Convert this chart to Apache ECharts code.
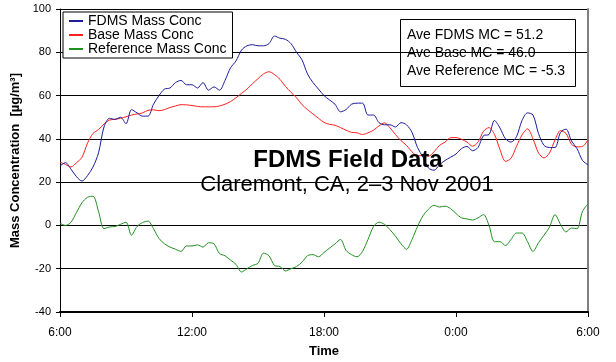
<!DOCTYPE html>
<html>
<head>
<meta charset="utf-8">
<script src="https://cdn.jsdelivr.net/npm/echarts@6/dist/echarts.min.js"></script>
<style>
  html, body { margin: 0; padding: 0; background: #fff; }
  #chart { width: 616px; height: 362px; }
</style>
</head>
<body>
<div id="chart"></div>
<script>
// FDMS field data, Claremont CA, 2-3 Nov 2001: mass concentrations sampled every 15 minutes from 6:00
const STEP_HOURS = 0.25;

const fdmsMassConc = [
  27.5, 29, 26, 22.5, 20.5, 23, 27, 33.5, 45.5, 49.5,
  49, 50, 47, 53.5, 52, 50.5, 50.5, 56, 60, 63,
  63.5, 66, 67, 65, 65, 63.5, 66, 62.5, 64, 62.5,
  67, 72.8, 76, 81, 83, 83.5, 83, 83, 84, 87.5,
  86.5, 86, 84, 80, 76.5, 70, 66, 63, 60, 58,
  56, 52.5, 53.5, 56, 56.5, 56.5, 51, 51, 47.5, 46.5,
  46.5, 45.5, 47.5, 46.5, 43, 36, 31.5, 26.5, 25.5, 28,
  30, 31.5, 33, 35.5, 36.5, 34.5, 36, 41.5, 42, 48.5,
  45, 40, 38.5, 41, 48.5, 52, 51, 42.5, 37, 36,
  36, 43, 44.5, 39, 35.5, 30, 28
];

const baseMassConc = [
  29.2, 28.2, 27, 29, 31.5, 38, 42.5, 44.3, 46.8, 48.7,
  49, 49.5, 50.2, 51, 51.5, 52, 53.2, 53.4, 53, 53.5,
  54.5, 55.2, 55.8, 55.7, 55.4, 55, 54.8, 54.8, 54.8, 55.2,
  56, 57.2, 59, 61, 63, 65.5, 67.8, 70, 71, 69.7,
  67.5, 64.2, 61.5, 59, 55.8, 53.5, 51.5, 49.5, 47.6, 46.7,
  46.3, 45.2, 44, 43, 42.8, 42, 42.8, 44, 46, 47.4,
  45.1, 42, 39.2, 37, 34, 32.2, 32.3, 32, 34, 37,
  38.5, 40.5, 40.6, 39.8, 38.5, 36.6, 38.5, 43.5, 45.2, 42,
  35, 29.6, 31, 36.5, 41.8, 44.6, 40, 33.5, 31.2, 33.5,
  39.5, 43.8, 42.5, 37.5, 36.3, 36.5, 39.5
];

const referenceMassConc = [
  1, 0, 1.5, 6, 10.5, 13, 13.5, 6.5, -1.5, -0.7,
  -0.5, 0.5, 1.5, -4.5, -0.5, 1.3, 2, -1.5, -6, -8.5,
  -10, -11, -12, -9.5, -9.5, -9, -10, -8, -8.5, -13,
  -14, -16, -18, -21.5, -20, -18.5, -17.5, -12.8, -14, -18.5,
  -19, -21, -20, -19, -17, -14, -13.5, -14.5, -12.5, -10.5,
  -8.5, -6.5, -11.5, -13.5, -14.5, -12, -6.5, -0.5, 1.5, 0.5,
  -2, -5, -8.5, -11, -6.5, -0.5, 4.5, 7.5, 9.3, 8.5,
  8.9, 7.8, 5.5, 3.5, 3, 2.5, 3.5, 5, 0, -7.5,
  -7.5, -9.3, -6.5, -3.5, -3.5, -7.5, -12, -8, -4.5, -0.8,
  5, 0.5, -3, -1.2, -1.5, 6.5, 10
];

const seriesNames = ['FDMS Mass Conc', 'Base Mass Conc', 'Reference Mass Conc'];
const xTickLabels = ['6:00', '12:00', '18:00', '0:00', '6:00'];
const averageLabels = ['Ave FDMS MC', 'Ave Base MC', 'Ave Reference MC'];
const averageValues = ['51.2', '46.0', '-5.3'];

const FONT = '"Liberation Sans", Arial, sans-serif';
const colors = ['#1c1c9c', '#ff1f1f', '#1f8f1f'];

function toPairs(values) {
  return values.map((v, i) => [i * STEP_HOURS, v]);
}

const chart = echarts.init(document.getElementById('chart'), null, { renderer: 'canvas' });

const seriesValues = [fdmsMassConc, baseMassConc, referenceMassConc];

const option = {
  animation: false,
  backgroundColor: '#fff',
  textStyle: { fontFamily: FONT },
  grid: { left: 60, top: 9, width: 528, height: 303, containLabel: false, outerBoundsMode: 'none' },
  legend: {
    orient: 'vertical',
    left: 63,
    top: 12,
    padding: [2, 6, 2, 6],
    itemGap: 0,
    itemWidth: 14,
    itemHeight: 2,
    icon: 'rect',
    borderColor: '#000',
    borderWidth: 1,
    backgroundColor: '#fff',
    data: seriesNames,
    textStyle: { fontSize: 14, fontFamily: FONT, color: '#000', lineHeight: 14 }
  },
  xAxis: {
    type: 'value',
    min: 0,
    max: 24,
    interval: 6,
    name: 'Time',
    nameLocation: 'middle',
    nameGap: 33,
    nameTextStyle: { fontSize: 13, fontWeight: 'bold', color: '#000', fontFamily: FONT },
    axisLine: { onZero: false, lineStyle: { color: '#000', width: 2 } },
    axisTick: { length: 5, lineStyle: { color: '#000' } },
    axisLabel: {
      color: '#000', fontSize: 12, fontFamily: FONT, margin: 15,
      formatter: (v) => xTickLabels[Math.round(v / 6)]
    },
    splitLine: { show: false }
  },
  yAxis: [
    {
      type: 'value',
      min: -40,
      max: 100,
      interval: 20,
      name: 'Mass Concentration  [µg/m³]',
      nameLocation: 'middle',
      nameGap: 32,
      nameTextStyle: { fontSize: 13, fontWeight: 'bold', color: '#000', fontFamily: FONT },
      axisLine: { show: true, onZero: false, lineStyle: { color: '#000', width: 1 } },
      axisTick: { show: true, length: 4, lineStyle: { color: '#000' } },
      axisLabel: { color: '#000', fontSize: 11, fontFamily: FONT, margin: 9 },
      splitLine: { show: true, lineStyle: { color: '#000', width: 1 } }
    },
    {
      type: 'value',
      position: 'right',
      min: -40,
      max: 100,
      interval: 20,
      axisLine: { show: true, onZero: false, lineStyle: { color: '#808080', width: 2 } },
      axisTick: { show: false },
      axisLabel: { show: false },
      splitLine: { show: false }
    }
  ],
  series: seriesNames.map((name, k) => ({
    name,
    type: 'line',
    data: toPairs(seriesValues[k]),
    showSymbol: false,
    symbol: 'none',
    smooth: 0.3,
    color: colors[k],
    lineStyle: { width: 1, color: colors[k] },
    z: 3 - k
  })),
  graphic: [
    {
      type: 'group',
      z: 100,
      children: [
        {
          type: 'rect',
          shape: { x: 400.5, y: 19.5, width: 175, height: 67 },
          style: { fill: '#fff', stroke: '#000', lineWidth: 1 }
        },
        {
          type: 'text',
          x: 407,
          y: 26,
          style: {
            text: averageLabels.map((l, i) => l + ' = ' + averageValues[i]).join('\n'),
            font: '14px ' + FONT,
            fill: '#000',
            lineHeight: 18,
            align: 'left',
            verticalAlign: 'top'
          }
        }
      ]
    },
    {
      type: 'text',
      z: 100,
      x: 348,
      y: 160,
      style: {
        text: 'FDMS Field Data',
        font: 'bold 24px ' + FONT,
        fill: '#000',
        align: 'center',
        verticalAlign: 'middle'
      }
    },
    {
      type: 'text',
      z: 100,
      x: 347,
      y: 185,
      style: {
        text: 'Claremont, CA, 2–3 Nov 2001',
        font: '22px ' + FONT,
        fill: '#000',
        align: 'center',
        verticalAlign: 'middle'
      }
    }
  ]
};

chart.setOption(option);
</script>
</body>
</html>
